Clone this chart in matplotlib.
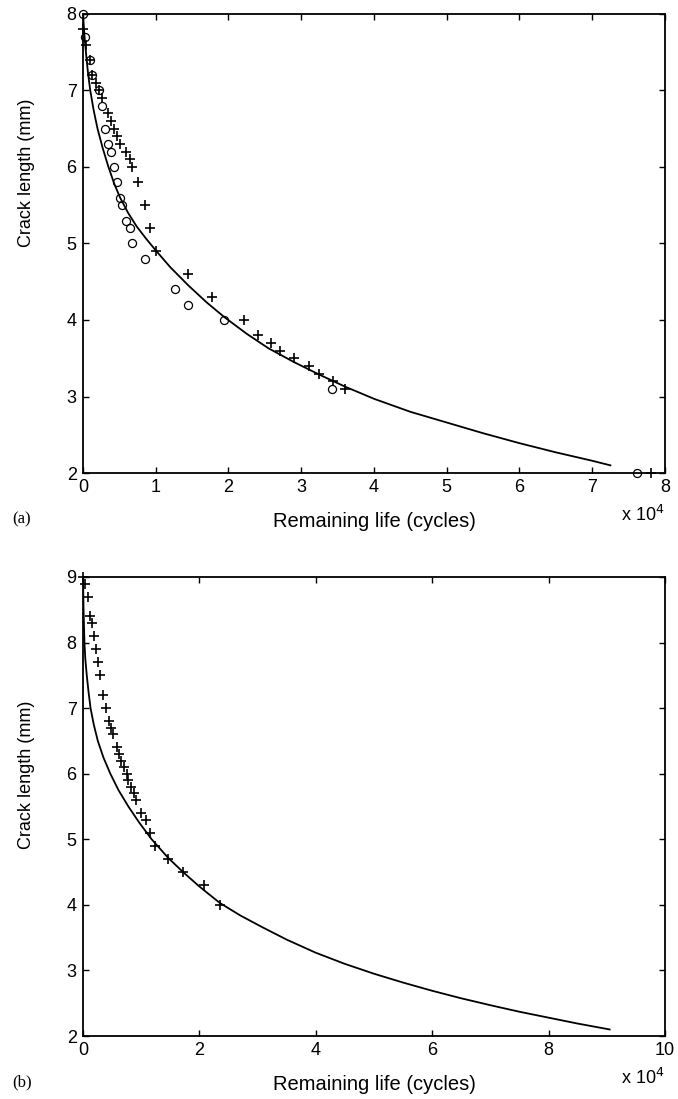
import numpy as np
import matplotlib.pyplot as plt

plt.rcParams['font.family'] = 'Liberation Sans'

# remaining life in units of 1e4 cycles, crack length in mm
# (a) test 1 (circles), test 2 (crosses), model curve
a_circ_x = [0, 0.03, 0.09, 0.13, 0.22, 0.26, 0.30, 0.35, 0.38, 0.42, 0.47, 0.51,
            0.54, 0.59, 0.64, 0.68, 0.85, 1.27, 1.44, 1.94, 3.42, 7.62]
a_circ_y = [8.0, 7.7, 7.4, 7.2, 7.0, 6.8, 6.5, 6.3, 6.2, 6.0, 5.8, 5.6,
            5.5, 5.3, 5.2, 5.0, 4.8, 4.4, 4.2, 4.0, 3.1, 2.0]

a_plus_x = [0.0, 0.04, 0.09, 0.13, 0.18, 0.22, 0.26, 0.34, 0.38, 0.43, 0.47, 0.51,
            0.59, 0.64, 0.67, 0.76, 0.85, 0.92, 1.0, 1.44, 1.78, 2.21, 2.41, 2.58,
            2.71, 2.9, 3.11, 3.24, 3.43, 3.6, 7.81]
a_plus_y = [7.8, 7.6, 7.4, 7.2, 7.1, 7.0, 6.9, 6.7, 6.6, 6.5, 6.4, 6.3,
            6.2, 6.1, 6.0, 5.8, 5.5, 5.2, 4.9, 4.6, 4.3, 4.0, 3.8, 3.7,
            3.6, 3.5, 3.4, 3.3, 3.2, 3.1, 2.0]

a_fit_x = [0, 0.02, 0.045, 0.07, 0.1, 0.145, 0.2, 0.27, 0.35, 0.43, 0.51, 0.62,
           0.74, 0.87, 1.0, 1.2, 1.45, 1.7, 1.94, 2.25, 2.55, 2.9, 3.24, 3.6,
           4.0, 4.5, 5.0, 5.5, 6.0, 6.5, 7.0, 7.25]
a_fit_y = [8.0, 7.72, 7.45, 7.22, 7.0, 6.75, 6.5, 6.25, 6.0, 5.78, 5.6, 5.4,
           5.22, 5.06, 4.91, 4.69, 4.45, 4.23, 4.04, 3.82, 3.63, 3.45, 3.29, 3.13,
           2.97, 2.8, 2.66, 2.52, 2.39, 2.27, 2.16, 2.1]

# (b) measured (crosses) and model curve
b_plus_x = [0.0, 0.03, 0.08, 0.12, 0.16, 0.19, 0.22, 0.26, 0.30, 0.34, 0.40, 0.45,
            0.48, 0.52, 0.58, 0.62, 0.66, 0.71, 0.75, 0.78, 0.82, 0.87, 0.91, 0.99,
            1.08, 1.15, 1.24, 1.46, 1.72, 2.08, 2.35]
b_plus_y = [9.0, 8.9, 8.7, 8.4, 8.3, 8.1, 7.9, 7.7, 7.5, 7.2, 7.0, 6.8,
            6.7, 6.6, 6.4, 6.3, 6.2, 6.1, 6.0, 5.9, 5.8, 5.7, 5.6, 5.4,
            5.3, 5.1, 4.9, 4.7, 4.5, 4.3, 4.0]

b_fit_x = [0, 0.005, 0.01, 0.025, 0.04, 0.065, 0.095, 0.13, 0.185, 0.255, 0.35, 0.47,
           0.61, 0.78, 0.97, 1.18, 1.46, 1.72, 2.0, 2.35, 2.7, 3.08, 3.5, 4.0,
           4.5, 5.0, 5.5, 6.0, 6.5, 7.0, 7.5, 8.0, 8.5, 9.05]
b_fit_y = [9.0, 8.75, 8.5, 8.0, 7.75, 7.5, 7.25, 7.0, 6.75, 6.5, 6.25, 6.0,
           5.75, 5.5, 5.25, 5.0, 4.72, 4.5, 4.28, 4.03, 3.84, 3.66, 3.47, 3.27,
           3.1, 2.95, 2.815, 2.69, 2.575, 2.47, 2.37, 2.28, 2.19, 2.1]

fig = plt.figure(figsize=(6.78, 10.99), dpi=100)
ax1 = fig.add_axes([0.1224, 0.5696, 0.8584, 0.4177])
ax2 = fig.add_axes([0.1224, 0.0573, 0.8584, 0.4177])

ax1.plot(a_fit_x, a_fit_y, 'k-', lw=1.3)
ax1.plot(a_circ_x, a_circ_y, 'o', mfc='none', mec='k', ms=5.8, mew=0.9, clip_on=False)
ax1.plot(a_plus_x, a_plus_y, '+', color='k', ms=7, mew=1.2, clip_on=False)
ax1.set_xlim(0, 8)
ax1.set_ylim(2, 8)
ax1.set_xticks(range(0, 9))
ax1.set_yticks(range(2, 9))

ax2.plot(b_fit_x, b_fit_y, 'k-', lw=1.3)
ax2.plot(b_plus_x, b_plus_y, '+', color='k', ms=7, mew=1.2, clip_on=False)
ax2.set_xlim(0, 10)
ax2.set_ylim(2, 9)
ax2.set_xticks(range(0, 11, 2))
ax2.set_yticks(range(2, 10))

for ax, tag, ly in [(ax1, '(a)', 0.655), (ax2, '(b)', 0.57)]:
    ax.tick_params(direction='in', top=True, right=True, length=4.5, width=1.0,
                   labelsize=13, pad=4.5)
    for s in ax.spines.values():
        s.set_linewidth(1.3)
    ax.set_xlabel('Remaining life (cycles)', fontsize=14.5, labelpad=11.5)
    ax.set_ylabel('Crack length (mm)', fontsize=13)
    ax.yaxis.set_label_coords(-0.082, ly)
    ax.text(-0.122, -0.1, tag, transform=ax.transAxes, fontsize=12,
            family='Liberation Serif', va='center', ha='left')
    ax.text(0.925, -0.092, r'x 10$^{4}$', transform=ax.transAxes, fontsize=13,
            va='center', ha='left')

fig.savefig('out.png', dpi=100)
